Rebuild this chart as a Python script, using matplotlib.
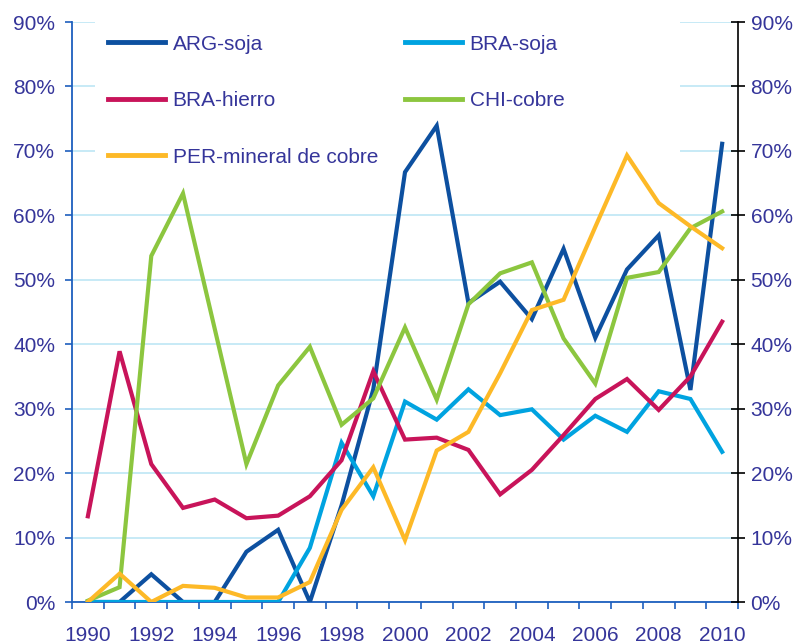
import matplotlib
matplotlib.use("Agg")
import matplotlib.pyplot as plt
from matplotlib.patches import Rectangle

plt.rcParams["font.family"] = ["Liberation Sans", "DejaVu Sans"]

# Data (share, %)
years = list(range(1990, 2011))
arg_soja = [0, 0, 4.3, 0, 0, 7.8, 11.2, 0, 15.0, 33.0, 66.7, 73.9, 46.4, 49.7, 43.9, 54.8, 41.0, 51.6, 56.9, 32.9, 71.1]
bra_soja = [0, 0, 0, 0, 0, 0, 0, 8.4, 24.7, 16.4, 31.1, 28.3, 33.0, 29.0, 29.9, 25.2, 28.9, 26.4, 32.7, 31.5, 23.3]
bra_hierro = [13.3, 38.9, 21.4, 14.6, 15.9, 13.0, 13.4, 16.4, 22.0, 35.8, 25.2, 25.5, 23.6, 16.7, 20.5, 25.9, 31.5, 34.6, 29.8, 35.0, 43.5]
chi_cobre = [0.2, 2.3, 53.7, 63.4, 42.4, 21.4, 33.6, 39.6, 27.5, 31.6, 42.6, 31.4, 46.2, 51.0, 52.7, 40.9, 33.9, 50.3, 51.2, 58.0, 60.6]
per_cobre = [0, 4.4, 0, 2.5, 2.2, 0.7, 0.7, 3.1, 14.3, 20.9, 9.6, 23.5, 26.4, 35.5, 45.3, 46.9, 58.2, 69.3, 61.9, 58.3, 54.9]

series = [
    ("ARG-soja", arg_soja, "#0D50A0"),
    ("BRA-soja", bra_soja, "#00A3E0"),
    ("BRA-hierro", bra_hierro, "#C8145A"),
    ("CHI-cobre", chi_cobre, "#8CC63F"),
    ("PER-mineral de cobre", per_cobre, "#FDB927"),
]

txt_color = "#35359A"
axis_blue = "#1E5FBE"
grid_color = "#BEE6F5"
fs = 15

fig = plt.figure(figsize=(8.01, 6.43), dpi=100)
ax = fig.add_axes([72 / 801, 41 / 643, 666 / 801, 580 / 643])

lines = []
for name, vals, col in series:
    ln, = ax.plot(years, vals, color=col, lw=3, label=name, zorder=3, solid_joinstyle="miter")
    lines.append(ln)

ax.set_xlim(1989.5, 2010.5)
ax.set_ylim(0, 90)
yt = list(range(0, 100, 10))
ax.set_yticks(yt)
ax.set_yticklabels([f"{v}%" for v in yt])
ax.grid(axis="y", color=grid_color, lw=1.2)
ax.set_axisbelow(True)

# category boundaries as tick marks, labels at even years
ax.set_xticks([y - 0.5 for y in years] + [2010.5])
ax.set_xticklabels([])
ax.set_xticks(years[::2], minor=True)
ax.set_xticklabels([str(y) for y in years[::2]], minor=True)
ax.tick_params(axis="x", which="major", direction="out", length=5, width=1.2, color=axis_blue)
ax.tick_params(axis="x", which="minor", length=0, pad=17, labelsize=fs, labelcolor=txt_color)
ax.tick_params(axis="y", direction="out", length=5, width=1.2, color=axis_blue, pad=7,
               labelsize=fs, labelcolor=txt_color)

for s in ["top", "right"]:
    ax.spines[s].set_visible(False)
for s in ["left", "bottom"]:
    ax.spines[s].set_color(axis_blue)
    ax.spines[s].set_linewidth(1.3)

# right axis
ax2 = ax.twinx()
ax2.set_ylim(0, 90)
ax2.set_yticks(yt)
ax2.set_yticklabels([f"{v}%" for v in yt])
ax2.tick_params(axis="y", direction="inout", length=10, width=1.2, color="black", pad=4,
                labelsize=fs, labelcolor=txt_color)
for s in ["top", "left", "bottom"]:
    ax2.spines[s].set_visible(False)
ax2.spines["right"].set_color("black")
ax2.spines["right"].set_linewidth(1.2)

# white legend area hiding grid lines
ax.add_patch(Rectangle((0.0345, 0.72), 0.879, 0.31, transform=ax.transAxes,
                       facecolor="white", edgecolor="none", zorder=1, clip_on=False))

# row-wise order for a 2-column legend
order = [0, 2, 4, 1, 3]
leg = ax.legend([lines[i] for i in order], [series[i][0] for i in order],
                loc="upper left", bbox_to_anchor=(0.054, 0.978), ncol=2, frameon=False,
                fontsize=fs, handlelength=2.75, handletextpad=0.35, columnspacing=1.3,
                labelspacing=1.8, borderaxespad=0, borderpad=0)
for t in leg.get_texts():
    t.set_color(txt_color)
for h in leg.legend_handles:
    h.set_linewidth(3.5)

fig.savefig("out.png", dpi=100)
